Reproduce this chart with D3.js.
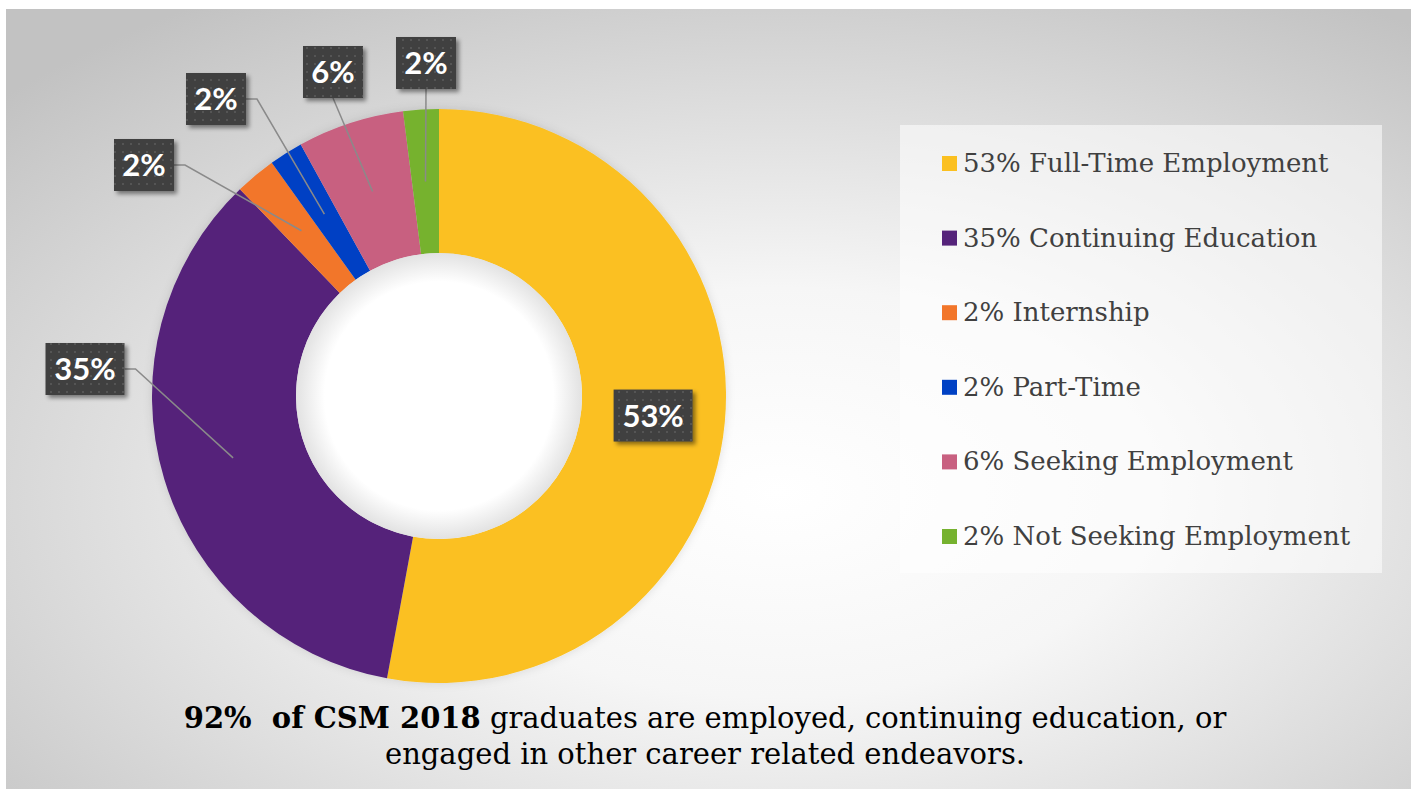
<!DOCTYPE html>
<html>
<head>
<meta charset="utf-8">
<script src="https://cdn.jsdelivr.net/npm/d3@7"></script>
<style>
  body { margin: 0; background: #fff; }
  svg { display: block; }
</style>
</head>
<body>
<svg width="1413" height="789"></svg>
<script>
// data
var categories = ["Full-Time Employment", "Continuing Education", "Internship", "Part-Time", "Seeking Employment", "Not Seeking Employment"];
var values     = [52.9, 34.9, 2.3, 1.9, 6.0, 2.0];
var shown      = ["53%", "35%", "2%", "2%", "6%", "2%"];
var colors     = ["#FBC020", "#55237A", "#F2762A", "#0041C4", "#C86080", "#76B22F"];

// where excel put the data labels (offset from pie centre), null = on the slice
var labelOffsets = [null, [-354, -27], [-295, -231], [-223, -297], [-106, -324], [-13, -333]];
var leaderFrom   = [null, "right", "right", "right", "bottom", "bottom"];

var svg = d3.select("svg");

const cx = 439, cy = 396,
      rOuter = 287, rInner = 143;

var defs = svg.append("defs");

var bg = defs.append("radialGradient").attr("id", "bg")
    .attr("cx", "0.55").attr("cy", "0.62").attr("r", "0.75");
bg.append("stop").attr("offset", "0").attr("stop-color", "#ffffff");
bg.append("stop").attr("offset", "0.35").attr("stop-color", "#f6f6f6");
bg.append("stop").attr("offset", "1").attr("stop-color", "#c2c2c2");

var hole = defs.append("radialGradient").attr("id", "hole");
hole.append("stop").attr("offset", "0.8").attr("stop-color", "#ffffff");
hole.append("stop").attr("offset", "1").attr("stop-color", "#e2e2e2");

var dots = defs.append("pattern").attr("id", "dots")
    .attr("width", 8).attr("height", 8).attr("patternUnits", "userSpaceOnUse");
dots.append("rect").attr("width", 8).attr("height", 8).attr("fill", "#404040");
dots.append("rect").attr("x", 3).attr("y", 3).attr("width", 2).attr("height", 2).attr("fill", "#555555");

var sh = defs.append("filter").attr("id", "shadow")
    .attr("x", "-20%").attr("y", "-20%").attr("width", "150%").attr("height", "150%");
sh.append("feDropShadow").attr("dx", 3).attr("dy", 3).attr("stdDeviation", 2)
    .attr("flood-color", "#000").attr("flood-opacity", 0.45);

var glow = defs.append("filter").attr("id", "glow")
    .attr("x", "-10%").attr("y", "-10%").attr("width", "120%").attr("height", "120%");
glow.append("feDropShadow").attr("dx", 0).attr("dy", 0).attr("stdDeviation", 5)
    .attr("flood-color", "#000").attr("flood-opacity", 0.12);

// slide background
svg.append("rect")
    .attr("x", 6).attr("y", 9)
    .attr("width", 1405).attr("height", 780)
    .attr("fill", "url(#bg)");

// donut
var pie = d3.pie().sort(null).value(d => d);
var arcs = pie(values);
var arc = d3.arc().innerRadius(rInner).outerRadius(rOuter);

var g = svg.append("g").attr("transform", "translate(" + cx + "," + cy + ")");

g.append("g").attr("filter", "url(#glow)")
  .selectAll("path")
  .data(arcs)
  .join("path")
    .attr("d", arc)
    .attr("fill", (d, i) => colors[i]);

g.append("circle").attr("r", rInner).attr("fill", "url(#hole)");

// leader lines + data labels
var lab = g.append("g");
arcs.forEach(function (d, i) {
  var c = arc.centroid(d);
  var bw = shown[i].length > 2 ? 79 : 60, bh = 52;
  var p = labelOffsets[i] || c;
  var x0 = p[0] - bw / 2, y0 = p[1] - bh / 2;

  if (leaderFrom[i] == "right") {
    var sx = x0 + bw, sy = p[1];
    lab.append("path")
        .attr("d", "M" + sx + "," + sy + "H" + (sx + 11) + "L" + c[0] + "," + c[1])
        .attr("fill", "none").attr("stroke", "#8a8a8a").attr("stroke-width", 1.5);
  } else if (leaderFrom[i] == "bottom") {
    lab.append("path")
        .attr("d", "M" + p[0] + "," + (y0 + bh) + "L" + c[0] + "," + c[1])
        .attr("fill", "none").attr("stroke", "#8a8a8a").attr("stroke-width", 1.5);
  }

  lab.append("rect")
      .attr("x", x0).attr("y", y0)
      .attr("width", bw).attr("height", bh)
      .attr("fill", "url(#dots)")
      .attr("filter", "url(#shadow)");
  lab.append("text")
      .attr("x", p[0]).attr("y", p[1] + 11)
      .attr("text-anchor", "middle")
      .attr("font-family", "Lato, 'Open Sans', sans-serif")
      .attr("font-weight", "bold")
      .attr("font-size", 31)
      .attr("fill", "#ffffff")
      .text(shown[i]);
});

// legend
var legend = svg.append("g");
legend.append("rect")
    .attr("x", 900).attr("y", 125)
    .attr("width", 482).attr("height", 448)
    .attr("fill", "#ffffff").attr("fill-opacity", 0.55);

var rows = legend.selectAll("g.row")
  .data(categories)
  .join("g")
    .attr("class", "row")
    .attr("transform", (d, i) => "translate(942," + (156 + i * 74.6) + ")");
rows.append("rect")
    .attr("width", 15).attr("height", 15)
    .attr("fill", (d, i) => colors[i]);
rows.append("text")
    .attr("x", 21).attr("y", 16)
    .attr("font-family", "'DejaVu Serif', serif")
    .attr("font-size", 26)
    .attr("fill", "#404040")
    .text((d, i) => shown[i] + " " + d);

// caption
var cap = svg.append("text")
    .attr("text-anchor", "middle")
    .attr("font-family", "'DejaVu Serif', serif")
    .attr("font-size", 29)
    .attr("fill", "#000")
    .style("white-space", "pre");
var l1 = cap.append("tspan").attr("x", 705).attr("y", 728);
l1.append("tspan").attr("font-weight", "bold").text("92%  of CSM 2018");
l1.append("tspan").text(" graduates are employed, continuing education, or");
cap.append("tspan").attr("x", 705).attr("y", 764)
    .text("engaged in other career related endeavors.");
</script>
</body>
</html>
